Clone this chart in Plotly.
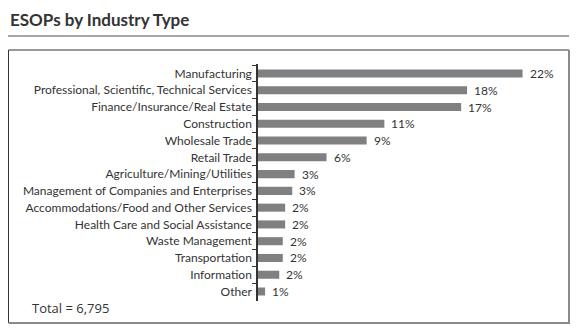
import plotly.graph_objects as go

categories = [
    "Manufacturing",
    "Professional, Scientific, Technical Services",
    "Finance/Insurance/Real Estate",
    "Construction",
    "Wholesale Trade",
    "Retail Trade",
    "Agriculture/Mining/Utilities",
    "Management of Companies and Enterprises",
    "Accommodations/Food and Other Services",
    "Health Care and Social Assistance",
    "Waste Management",
    "Transportation",
    "Information",
    "Other",
]
values = [22.4, 17.7, 17.2, 10.7, 9.2, 5.8, 3.1, 2.9, 2.3, 2.3, 2.1, 2.1, 1.8, 0.6]
labels = ["22%", "18%", "17%", "11%", "9%", "6%", "3%", "3%", "2%", "2%", "2%", "2%", "2%", "1%"]

W, H = 576, 331
L, R, T, B = 258, 18, 64, 30
PW, PH = W - L - R, H - T - B

def px(x):
    return (x - L) / PW

def py(y):
    return 1 - (y - T) / PH

FONT = "Lato, 'Open Sans', sans-serif"

fig = go.Figure(go.Bar(
    x=values, y=categories, orientation="h",
    marker=dict(color="#808083", line=dict(width=0)),
))

shapes = [
    dict(type="line", xref="paper", yref="paper", x0=px(8), x1=px(569), y0=py(36), y1=py(36),
         line=dict(color="#8a8a8a", width=1.5)),
    dict(type="line", xref="paper", yref="paper", x0=px(8.5), x1=px(569), y0=py(50), y1=py(50),
         line=dict(color="#333333", width=1)),
    dict(type="line", xref="paper", yref="paper", x0=px(8.5), x1=px(8.5), y0=py(50), y1=py(323),
         line=dict(color="#333333", width=1)),
    dict(type="line", xref="paper", yref="paper", x0=px(569), x1=px(569), y0=py(50), y1=py(323.5),
         line=dict(color="#8a8a8a", width=2)),
    dict(type="line", xref="paper", yref="paper", x0=px(8.5), x1=px(570), y0=py(323), y1=py(323),
         line=dict(color="#8a8a8a", width=2)),
]

annotations = [
    dict(x=v, y=c, text=t, xref="x", yref="y", xanchor="left", yanchor="middle",
         xshift=5, showarrow=False, font=dict(family=FONT, size=12, color="#333333"))
    for c, v, t in zip(categories, values, labels)
]
annotations.append(dict(text="Total = 6,795", xref="paper", yref="paper", x=px(30), y=py(308),
                        xanchor="left", yanchor="middle", showarrow=False,
                        font=dict(family="'Open Sans', sans-serif", size=13, color="#333333")))

fig.update_layout(
    width=W, height=H,
    margin=dict(l=L, r=R, t=T, b=B),
    paper_bgcolor="white", plot_bgcolor="white",
    showlegend=False,
    bargap=0.52,
    title=dict(text="<b>ESOPs by Industry Type</b>", xref="container", yref="container",
               x=10 / W, xanchor="left", y=1 - 20.5 / H, yanchor="middle",
               font=dict(family=FONT, size=17, color="#333333")),
    xaxis=dict(range=[0, 25.4], visible=False, fixedrange=True),
    yaxis=dict(type="category", autorange="reversed", showline=True, linecolor="#333333",
               linewidth=1.5, ticks="outside", tickson="boundaries", ticklen=4,
               tickcolor="#333333", tickwidth=1.2, showgrid=False,
               tickfont=dict(family=FONT, size=12, color="#333333"), ticklabelstandoff=2),
    shapes=shapes,
    annotations=annotations,
)

fig.write_html("out.html")
